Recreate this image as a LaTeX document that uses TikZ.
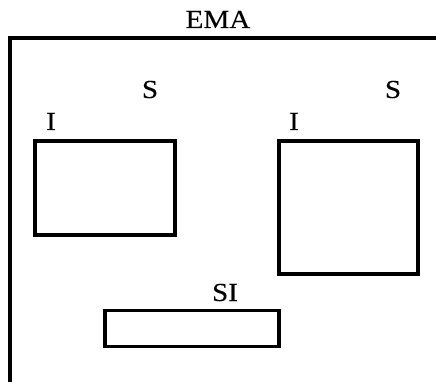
\documentclass[tikz,border=0pt]{standalone}
\usepackage{fontspec}
\setmainfont{Liberation Serif}[FakeStretch=1.12,FakeBold=0.15]
\begin{document}
\begin{tikzpicture}[x=1pt,y=-1pt,
  frame/.style={line width=3.2pt},
  panel/.style={draw,line width=3.2pt,inner sep=0pt,outer sep=0pt},
  lbl/.style={font=\fontsize{26}{30}\selectfont,anchor=base,inner sep=0pt}]
  \useasboundingbox (0,0) rectangle (436,382);
  % outer enclosure, open to the right and below
  \coordinate (tr) at (437,38);
  \coordinate (tl) at (10,38);
  \coordinate (bl) at (10,383);
  \draw[frame] (tr) -- (tl) -- (bl);
  \node[lbl] (ema) at (218,28) {EMA};
  % left panel
  \node[panel,minimum width=140pt,minimum height=94pt] (p1) at (105,188) {};
  \node[lbl] (s1) at (150,98) {S};
  \node[lbl] (i1) at (51,130) {I};
  % right panel
  \node[panel,minimum width=139pt,minimum height=133pt] (p2) at (348.5,207.5) {};
  \node[lbl] (s2) at (393,98) {S};
  \node[lbl] (i2) at (294,130) {I};
  % bottom panel
  \node[panel,minimum width=174pt,minimum height=36pt] (p3) at (192,328.5) {};
  \node[lbl] (si) at (225,301) {SI};
\end{tikzpicture}
\end{document}
